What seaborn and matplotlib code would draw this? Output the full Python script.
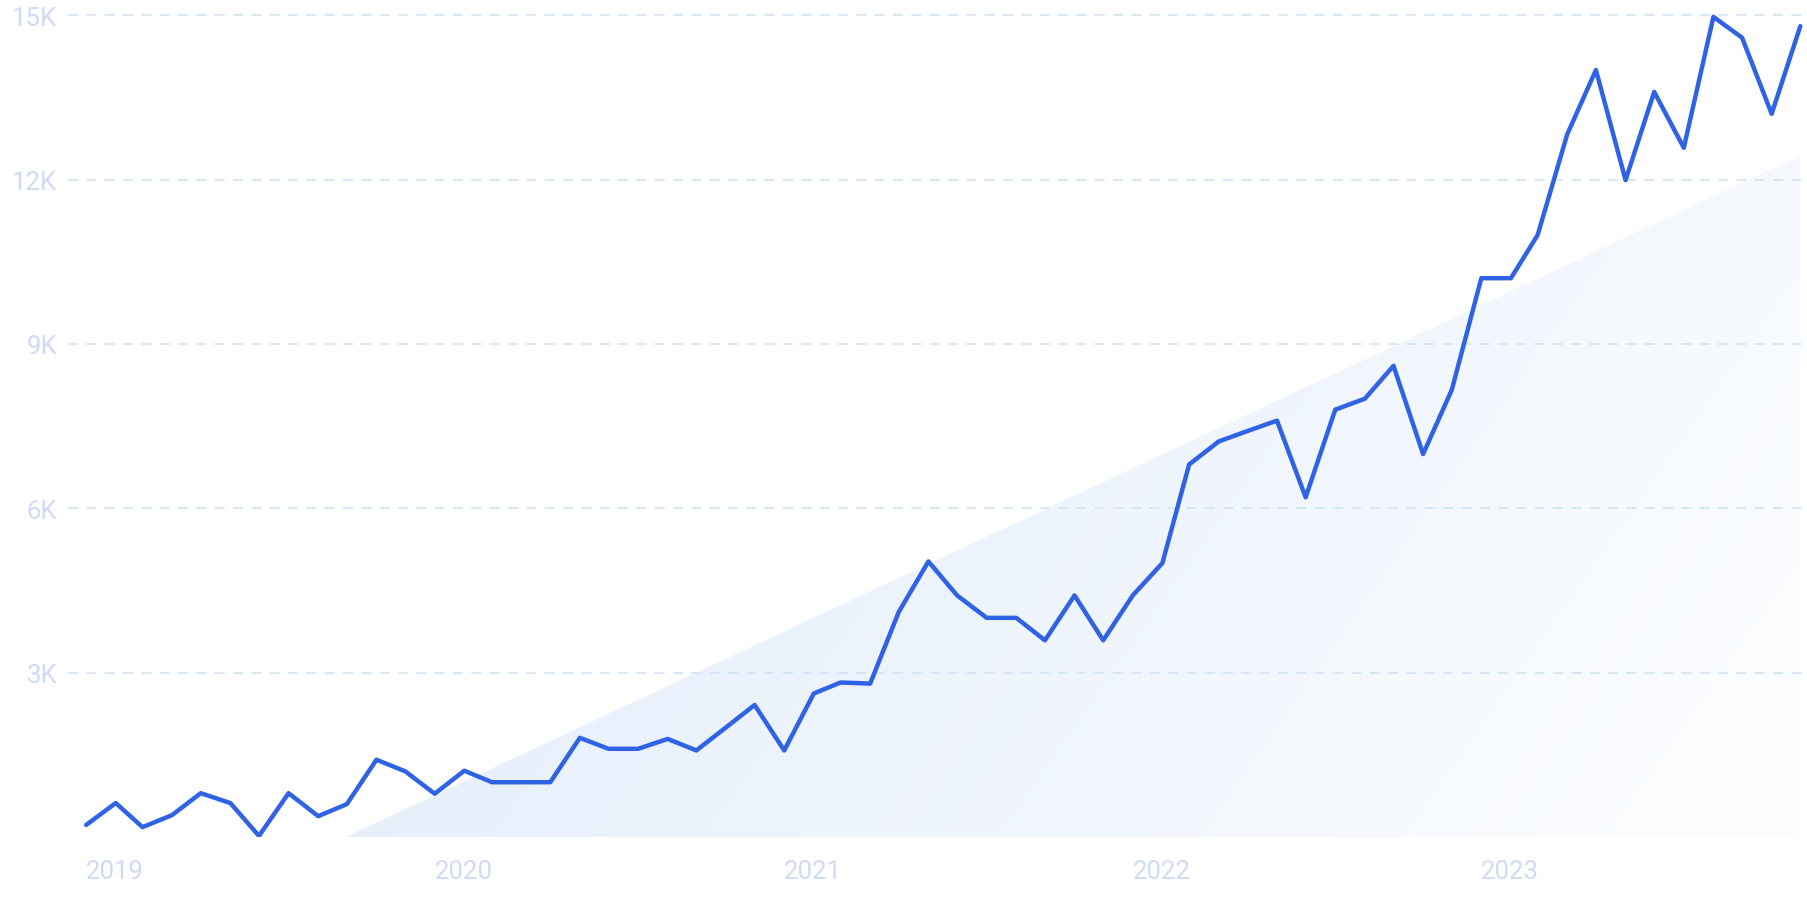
import numpy as np
import pandas as pd
import matplotlib
matplotlib.use("Agg")
import matplotlib.pyplot as plt
import matplotlib.dates as mdates
from matplotlib import font_manager as fm
from matplotlib.colors import LinearSegmentedColormap
import seaborn as sns

# monthly search volume, thousands (Jan 2019 .. Dec 2023)
months = pd.date_range("2019-01-01", periods=60, freq="MS")
volume_k = [
    0.22, 0.62, 0.18, 0.40, 0.80, 0.62, 0.02, 0.80, 0.38, 0.60, 1.41, 1.20,
    0.79, 1.21, 1.00, 1.00, 1.00, 1.81, 1.61, 1.61, 1.79, 1.58, 2.00, 2.41,
    1.58, 2.62, 2.82, 2.80, 4.11, 5.03, 4.41, 4.00, 4.00, 3.59, 4.41, 3.59,
    4.41, 5.00, 6.80, 7.22, 7.41, 7.60, 6.20, 7.80, 8.00, 8.60, 6.99, 8.16,
    10.20, 10.20, 10.99, 12.83, 14.00, 11.99, 13.60, 12.58, 14.97, 14.59, 13.20, 14.80,
]
# trend line value at first and last month (thousands)
trend_ends_k = [-2.22, 12.44]

y_ticks = [3, 6, 9, 12, 15]
y_labels = ["3K", "6K", "9K", "12K", "15K"]
year_ticks = pd.to_datetime(["2019-01-01", "2020-01-01", "2021-01-01", "2022-01-01", "2023-01-01"])
year_labels = ["2019", "2020", "2021", "2022", "2023"]

df = pd.DataFrame({"month": months, "volume": volume_k})

sns.set_theme(style="white")
installed = {f.name for f in fm.fontManager.ttflist}
if "Liberation Sans Narrow" in installed:
    family, ysize, xsize = "Liberation Sans Narrow", 21, 22
else:
    family, ysize, xsize = "Roboto", 18.5, 18.5
plt.rcParams["font.family"] = [family, "DejaVu Sans"]
label_color = "#d0daf4"

W, H = 1807, 903
fig = plt.figure(figsize=(W / 100, H / 100), dpi=100)
ax = fig.add_axes([68 / W, (H - 838) / H, (W - 68) / W, (838 - 8) / H])

# trend area with diagonal gradient
xd = mdates.date2num(months)
x0, x1 = xd[0], xd[-1]
t0, t1 = trend_ends_k
xz = x0 + (0 - t0) / (t1 - t0) * (x1 - x0)
poly = ax.fill_between(mdates.num2date([xz, x1]), [0, 0], [0, t1], color="none", lw=0)
u, v = np.meshgrid(np.linspace(0, 1, 400), np.linspace(1, 0, 200))
grad = 0.75 * u + 0.25 * (1 - v)
cmap = LinearSegmentedColormap.from_list("fade", ["#dae7fa", "#fdfeff"])
img = ax.imshow(grad, cmap=cmap, extent=[0, 1, 0, 1], transform=ax.transAxes,
                aspect="auto", zorder=0, interpolation="bilinear")
img.set_clip_path(poly.get_paths()[0], transform=ax.transData)

ax.hlines(0, months[0], months[-1], color="#f1f3f6", linewidth=1, zorder=1)

for yt in y_ticks:
    ax.axhline(yt, color="#cfe4f6", linewidth=1.2, linestyle=(0, (6, 5)), zorder=1)

sns.lineplot(data=df, x="month", y="volume", ax=ax, color="#2f62e4", zorder=3)
trend_line = ax.lines[-1]
trend_line.set_linewidth(3.2)
trend_line.set_solid_joinstyle("round")

ax.set_xlim(months[0] - pd.Timedelta(days=19), months[-1] + pd.Timedelta(days=7))
ax.set_ylim(0, 15.15)
ax.set_yticks(y_ticks)
ax.set_yticklabels(y_labels, fontsize=ysize, color=label_color)
ax.set_xticks(year_ticks)
ax.set_xticklabels(year_labels, fontsize=xsize, color=label_color, ha="left")
ax.tick_params(axis="y", length=0, pad=8)
ax.tick_params(axis="x", length=0, pad=16)
ax.set_xlabel("")
ax.set_ylabel("")
ax.grid(False)
sns.despine(ax=ax, left=True, bottom=True)

fig.savefig("out.png", dpi=100, facecolor="white")
